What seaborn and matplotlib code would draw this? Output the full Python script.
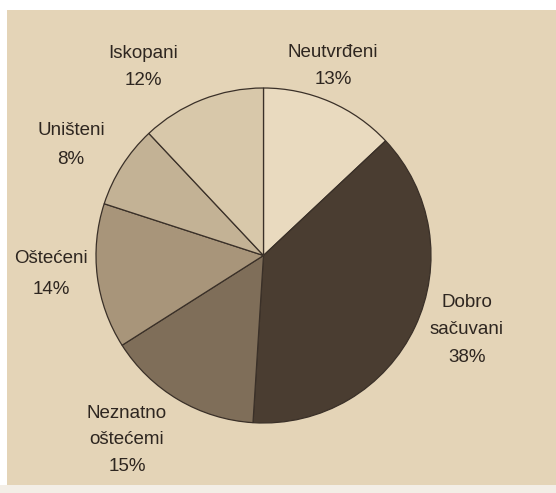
import seaborn as sns
import matplotlib.pyplot as plt
from matplotlib.patches import Rectangle

# slices, clockwise from the top
labels = ['Neutvrđeni', 'Dobro\nsačuvani', 'Neznatno\noštećemi', 'Oštećeni', 'Uništeni', 'Iskopani']
shares = [13, 38, 15, 14, 8, 12]
colors = ['#e9dabf', '#4a3d31', '#7f6e59', '#a8957a', '#c3b295', '#d8c8aa']

# label anchor points in pixels (x from left, y from top) and line spacing, one per slice
label_px = [(333, 66), (467, 330), (127, 440), (51, 274), (71, 145), (143, 67)]
label_ls = [1.78, 1.82, 1.7, 2.15, 1.85, 1.78]

sns.set_theme(style='white')
plt.rcParams['font.family'] = ['Liberation Sans', 'DejaVu Sans']

W, H = 556, 493
fig = plt.figure(figsize=(W / 100, H / 100), dpi=100)
fig.patch.set_facecolor('#e4d4b7')
ax = fig.add_axes([0, 0, 1, 1])
ax.set_facecolor('#e4d4b7')

ax.pie(shares, colors=colors, startangle=90, counterclock=False, radius=1,
       wedgeprops=dict(edgecolor='#3a3028', linewidth=0.9))

# pie centre and radius in pixels (limits set after pie, which resets them)
cx, cy, r = 263.5, 255.5, 167.5
ax.set_xlim(-cx / r, (W - cx) / r)
ax.set_ylim(-(H - cy) / r, cy / r)
ax.set_aspect('equal')
ax.axis('off')

for lab, val, (px, py), ls in zip(labels, shares, label_px, label_ls):
    ax.text((px - cx) / r, (cy - py) / r, f'{lab}\n{val}%', ha='center', va='center',
            fontsize=13.5, color='#2e2620', linespacing=ls)

# white page margins from the photo
fig.patches.append(Rectangle((0, 1 - 10 / H), 1, 10 / H, transform=fig.transFigure,
                             facecolor='white', edgecolor='none', zorder=5))
fig.patches.append(Rectangle((0, 0), 7 / W, 1, transform=fig.transFigure,
                             facecolor='white', edgecolor='none', zorder=5))
fig.patches.append(Rectangle((0, 0), 1, 8 / H, transform=fig.transFigure,
                             facecolor='#f3eee6', edgecolor='none', zorder=5))

plt.savefig('out.png', dpi=100, facecolor=fig.get_facecolor())
